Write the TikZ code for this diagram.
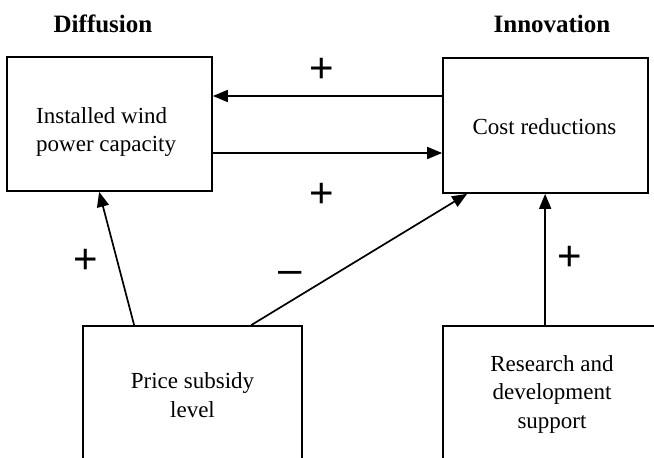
\documentclass[tikz,border=0pt]{standalone}
\usepackage{fontspec}
\setmainfont{Liberation Serif}
\newfontfamily\signfont{Liberation Sans}
\usetikzlibrary{arrows.meta,calc}
\begin{document}
\begin{tikzpicture}[x=1pt,y=-1pt,
  box/.style={draw, line width=1.7pt, inner sep=0pt},
  lbl/.style={inner sep=0pt, font=\fontsize{23}{28.5}\selectfont, align=center},
  head/.style={inner sep=0pt, font=\fontsize{25}{30}\selectfont\bfseries},
  sign/.style={inner sep=0pt, font=\fontsize{42}{42}\selectfont\signfont},
  arr/.style={line width=1.7pt, -{Triangle[length=15pt,width=12pt]}}]
\useasboundingbox (0,0) rectangle (654,458);
\clip (0,0) rectangle (654,458);
\fill[white] (0,0) rectangle (654,458);

\node[box, minimum width=205pt, minimum height=134pt] (inst) at (109.5,124) {};
\node[box, minimum width=205pt, minimum height=135pt] (cost) at (545.5,125.5) {};
\node[box, minimum width=219pt, minimum height=150pt] (price) at (192.5,401) {};
\node[box, minimum width=218pt, minimum height=150pt] (rd) at (552,401) {};

\node[lbl, align=left, anchor=west] (instt) at (36,132) {Installed wind\\power capacity};
\node[lbl] (costt) at (544.5,127) {Cost reductions};
\node[lbl] (pricet) at (192.5,395) {Price subsidy\\level};
\node[lbl] (rdt) at (552,394) {Research and\\development\\support};

\node[head] (diff) at (103,24) {Diffusion};
\node[head] (innov) at (552,24) {Innovation};

\coordinate (ua) at (0,96);
\coordinate (la) at (0,153);
\draw[arr] (ua -| cost.west) -- (ua -| inst.east);
\draw[arr] (la -| inst.east) -- (la -| cost.west);

\coordinate (p1) at ($(price.north west)+(52,0)$);
\coordinate (i1) at ($(inst.south west)+(93,0)$);
\coordinate (p2) at ($(price.north west)+(169,0)$);
\coordinate (c2) at ($(cost.south west)+(25,0)$);
\coordinate (r1) at ($(rd.north west)+(103,0)$);
\draw[arr] (p1) -- (i1);
\draw[arr] (p2) -- (c2);
\draw[arr] (r1) -- (r1 |- cost.south);

\node[sign] (s1) at (322,70) {+};
\node[sign] (s2) at (322,195) {+};
\node[sign] (s3) at (86,261) {+};
\node[sign] (s4) at (290,277) {–};
\node[sign] (s5) at (569.5,258.5) {+};
\end{tikzpicture}
\end{document}
